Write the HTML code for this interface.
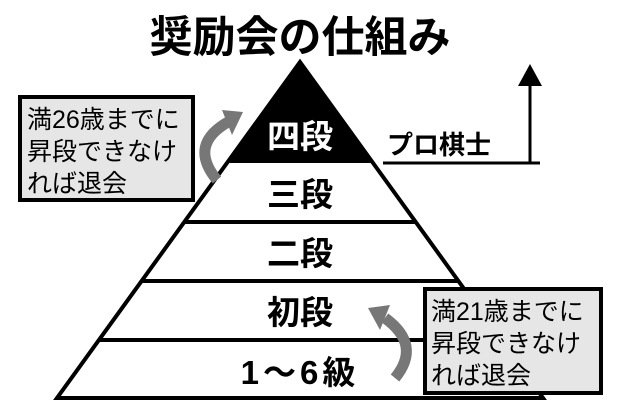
<!DOCTYPE html>
<html><head><meta charset="utf-8"><style>
body{margin:0;background:#fff;width:620px;height:413px;overflow:hidden}
svg{display:block}
text{font-family:"Liberation Sans","Noto Sans CJK JP",sans-serif}
</style></head><body>
<svg width="620" height="413" viewBox="0 0 620 413">
<rect width="620" height="413" fill="#fff"/>
<text x="300" y="52" font-size="43" font-weight="bold" text-anchor="middle">奨励会の仕組み</text>
<polygon points="300,62 57,398 543,398" fill="#fff" stroke="#000" stroke-width="4" stroke-linejoin="miter"/>
<polygon points="300,62 227,163 373,163" fill="#000"/>
<g stroke="#000" stroke-width="4">
<line x1="184" y1="222" x2="416" y2="222"/>
<line x1="142" y1="281" x2="458" y2="281"/>
<line x1="99" y1="340" x2="501" y2="340"/>
</g>
<g font-size="33" font-weight="bold" text-anchor="middle">
<text x="300" y="148" fill="#fff">四段</text>
<text x="300" y="206">三段</text>
<text x="300" y="265">二段</text>
<text x="300" y="324">初段</text>
<text x="300" y="384" letter-spacing="4">1～6級</text>
</g>
<line x1="383" y1="163" x2="540" y2="163" stroke="#000" stroke-width="3"/>
<text x="387" y="154" font-size="26" font-weight="bold">プロ棋士</text>
<line x1="530" y1="163" x2="530" y2="85" stroke="#000" stroke-width="3"/>
<polygon points="530,64 518,86 542,86" fill="#000"/>
<rect x="20" y="97" width="173" height="103" fill="#e6e6e6" stroke="#000" stroke-width="4"/>
<g font-size="25">
<text x="27" y="128">満26歳までに</text>
<text x="27" y="160">昇段できなけ</text>
<text x="27" y="192">れば退会</text>
</g>
<rect x="425" y="289" width="176" height="104" fill="#e6e6e6" stroke="#000" stroke-width="4"/>
<g font-size="25">
<text x="431" y="320">満21歳までに</text>
<text x="431" y="352">昇段できなけ</text>
<text x="431" y="384">れば退会</text>
</g>
<path d="M217,180 Q188,145 228,122" fill="none" stroke="#777" stroke-width="11"/>
<polygon points="243,112 222,110 232,135" fill="#777"/>
<path d="M395,378 Q422,345 385,318" fill="none" stroke="#777" stroke-width="11"/>
<polygon points="368,308 390,305 380,330" fill="#777"/>
</svg>
</body></html>
